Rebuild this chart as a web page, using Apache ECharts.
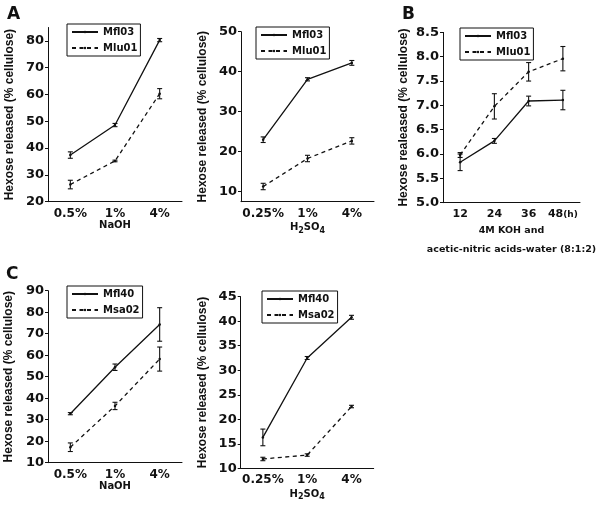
<!DOCTYPE html>
<html><head><meta charset="utf-8">
<script src="https://cdn.jsdelivr.net/npm/echarts@6/dist/echarts.min.js"></script>
<style>html,body{margin:0;padding:0;background:#fff;}#c{width:600px;height:508px;}</style>
</head><body><div id="c"></div>
<script>
// ---- data ----
const naohCats = ['0.5%', '1%', '4%'];
const h2so4Cats = ['0.25%', '1%', '4%'];
const hourCats = ['12', '24', '36', '48'];

// Panel A (left): NaOH
const mfl03Naoh = [37.4, 48.6, 80.3];
const mfl03NaohErr = [1.2, 0.6, 0.6];
const mlu01Naoh = [26.4, 35.2, 60.3];
const mlu01NaohErr = [1.6, 0.3, 1.9];
// Panel A (right): H2SO4
const mfl03H2so4 = [23.0, 38.1, 42.2];
const mfl03H2so4Err = [0.7, 0.4, 0.6];
const mlu01H2so4 = [11.3, 18.3, 22.7];
const mlu01H2so4Err = [0.8, 0.8, 0.8];
// Panel B: KOH / acetic-nitric
const mfl03Koh = [5.83, 6.27, 7.09, 7.11];
const mfl03KohErr = [0.17, 0.05, 0.10, 0.20];
const mlu01Koh = [5.98, 6.98, 7.69, 7.96];
const mlu01KohErr = [0.05, 0.26, 0.19, 0.25];
// Panel C (left): NaOH
const mfl40Naoh = [32.8, 54.4, 74.3];
const mfl40NaohErr = [0.5, 1.5, 7.8];
const msa02Naoh = [17.2, 36.4, 58.2];
const msa02NaohErr = [2.0, 1.7, 5.6];
// Panel C (right): H2SO4
const mfl40H2so4 = [16.3, 32.5, 40.8];
const mfl40H2so4Err = [1.7, 0.3, 0.4];
const msa02H2so4 = [11.9, 12.7, 22.6];
const msa02H2so4Err = [0.35, 0.25, 0.25];

const yTicksA1 = [20, 30, 40, 50, 60, 70, 80];
const yTicksA2 = [10, 20, 30, 40, 50];

// ---- styling helpers ----
const INK = '#111';
const FONT = 'DejaVu Sans';
const yTitle = 'Hexose released (% cellulose)';
const yTitleB = 'Hexose realeased (% cellulose)';

function xAxis(gi, cats, name, labelSize, extra) {
  return Object.assign({
    type: 'category', gridIndex: gi, data: cats, boundaryGap: true,
    axisLine: { lineStyle: { color: INK, width: 1 } },
    axisTick: { alignWithLabel: true, length: 3, lineStyle: { color: INK } },
    axisLabel: { interval: 0, color: INK, fontFamily: FONT, fontWeight: 'bold', fontSize: labelSize, margin: 6 },
    name: name, nameLocation: 'middle', nameGap: 19,
    nameTextStyle: { color: INK, fontFamily: FONT, fontWeight: 'bold', fontSize: 10 }
  }, extra || {});
}
function yAxis(gi, min, max, opts) {
  const a = {
    type: 'value', gridIndex: gi, min: min, max: max,
    splitLine: { show: false },
    axisLine: { show: true, lineStyle: { color: INK, width: 1 } },
    axisTick: { show: true, length: 3, lineStyle: { color: INK } },
    axisLabel: { color: INK, fontFamily: FONT, fontWeight: 'bold', fontSize: 13, margin: 4 },
    name: opts.name, nameLocation: 'middle', nameGap: opts.gap,
    nameTextStyle: { color: INK, fontFamily: 'Liberation Sans', fontWeight: 'bold', fontSize: 12 }
  };
  if (opts.interval) a.interval = opts.interval;
  if (opts.ticks) {
    a.axisLabel.customValues = opts.ticks;
    a.axisTick.customValues = opts.ticks;
  }
  if (opts.fmt) a.axisLabel.formatter = opts.fmt;
  return a;
}
function lineSeries(name, gi, data, dashed) {
  return {
    type: 'line', name: name, xAxisIndex: gi, yAxisIndex: gi, data: data,
    symbol: 'circle', symbolSize: 2.5, showSymbol: true,
    itemStyle: { color: INK },
    lineStyle: { color: INK, width: 1.3, type: dashed ? [4, 3.5] : 'solid' },
    emphasis: { disabled: true }, silent: true, z: 3
  };
}
function errSeries(gi, data, err) {
  return {
    type: 'custom', xAxisIndex: gi, yAxisIndex: gi, silent: true, z: 4,
    data: data.map((v, i) => [i, v - err[i], v + err[i]]),
    renderItem: function (params, api) {
      const x = api.value(0);
      const lo = api.coord([x, api.value(1)]);
      const hi = api.coord([x, api.value(2)]);
      const w = 2.5;
      const st = { stroke: INK, lineWidth: 1.1 };
      return {
        type: 'group', children: [
          { type: 'line', shape: { x1: lo[0], y1: lo[1], x2: hi[0], y2: hi[1] }, style: st },
          { type: 'line', shape: { x1: lo[0] - w, y1: lo[1], x2: lo[0] + w, y2: lo[1] }, style: st },
          { type: 'line', shape: { x1: hi[0] - w, y1: hi[1], x2: hi[0] + w, y2: hi[1] }, style: st }
        ]
      };
    }
  };
}
function legend(names, left, top) {
  return {
    data: names, orient: 'vertical', left: left, top: top,
    itemWidth: 26, itemHeight: 3, itemGap: 6,
    padding: [3, 3, 3, 4], borderColor: INK, borderWidth: 1,
    selectedMode: false,
    textStyle: { color: INK, fontFamily: FONT, fontWeight: 'bold', fontSize: 10, lineHeight: 10 }
  };
}

const h2so4Name = 'H{sub|2}SO{sub|4}';
const h2so4NameStyle = {
  color: INK, fontFamily: FONT, fontWeight: 'bold', fontSize: 10,
  rich: { sub: { fontFamily: FONT, fontWeight: 'bold', fontSize: 8, verticalAlign: 'bottom', padding: [6, 0, 0, 0], color: INK } }
};

const option = {
  backgroundColor: '#fff',
  animation: false,
  title: [
    { text: 'A', left: 2, top: 1, textStyle: { fontFamily: FONT, fontWeight: 'bold', fontSize: 17, color: INK } },
    { text: 'B', left: 397, top: 1, textStyle: { fontFamily: FONT, fontWeight: 'bold', fontSize: 17, color: INK } },
    { text: 'C', left: 1, top: 261, textStyle: { fontFamily: FONT, fontWeight: 'bold', fontSize: 17, color: INK } }
  ],
  grid: [
    { left: 48, top: 27.5, width: 134, height: 174.2 },
    { left: 241, top: 31.7, width: 133, height: 170 },
    { left: 443, top: 32.4, width: 137, height: 170.3 },
    { left: 48, top: 290.7, width: 134, height: 172 },
    { left: 240.7, top: 296.7, width: 133, height: 171.6 }
  ],
  legend: [
    legend(['Mfl03', 'Mlu01'], 67, 24),
    legend(['Mfl03', 'Mlu01'], 256, 27),
    legend(['Mfl03', 'Mlu01'], 460, 28),
    legend(['Mfl40', 'Msa02'], 67, 286),
    legend(['Mfl40', 'Msa02'], 262, 291)
  ],
  xAxis: [
    xAxis(0, naohCats, 'NaOH', 12),
    xAxis(1, h2so4Cats, h2so4Name, 12, { nameTextStyle: h2so4NameStyle }),
    xAxis(2, hourCats, '4M KOH and\nacetic-nitric acids-water (8:1:2)', 11, {
      nameGap: 12,
      nameTextStyle: { color: INK, fontFamily: FONT, fontWeight: 'bold', fontSize: 9.5, lineHeight: 19 },
      axisLabel: {
        interval: 0, color: INK, fontFamily: FONT, fontWeight: 'bold', fontSize: 11, margin: 6,
        formatter: function (v, i) { return i === hourCats.length - 1 ? v + '{h|(h)}' : v; },
        rich: { h: { fontFamily: FONT, fontWeight: 'bold', fontSize: 9, color: INK } }
      }
    }),
    xAxis(3, naohCats, 'NaOH', 12),
    xAxis(4, h2so4Cats, h2so4Name, 12, { nameTextStyle: h2so4NameStyle })
  ],
  yAxis: [
    yAxis(0, 20, 85, { name: yTitle, gap: 32, ticks: yTicksA1 }),
    yAxis(1, 7.5, 50, { name: yTitle, gap: 32, ticks: yTicksA2 }),
    yAxis(2, 5, 8.5, { name: yTitleB, gap: 33, interval: 0.5, fmt: v => v.toFixed(1) }),
    yAxis(3, 10, 90, { name: yTitle, gap: 33, interval: 10 }),
    yAxis(4, 10, 45, { name: yTitle, gap: 32, interval: 5 })
  ],
  series: [
    lineSeries('Mfl03', 0, mfl03Naoh, false), errSeries(0, mfl03Naoh, mfl03NaohErr),
    lineSeries('Mlu01', 0, mlu01Naoh, true), errSeries(0, mlu01Naoh, mlu01NaohErr),
    lineSeries('Mfl03', 1, mfl03H2so4, false), errSeries(1, mfl03H2so4, mfl03H2so4Err),
    lineSeries('Mlu01', 1, mlu01H2so4, true), errSeries(1, mlu01H2so4, mlu01H2so4Err),
    lineSeries('Mfl03', 2, mfl03Koh, false), errSeries(2, mfl03Koh, mfl03KohErr),
    lineSeries('Mlu01', 2, mlu01Koh, true), errSeries(2, mlu01Koh, mlu01KohErr),
    lineSeries('Mfl40', 3, mfl40Naoh, false), errSeries(3, mfl40Naoh, mfl40NaohErr),
    lineSeries('Msa02', 3, msa02Naoh, true), errSeries(3, msa02Naoh, msa02NaohErr),
    lineSeries('Mfl40', 4, mfl40H2so4, false), errSeries(4, mfl40H2so4, mfl40H2so4Err),
    lineSeries('Msa02', 4, msa02H2so4, true), errSeries(4, msa02H2so4, msa02H2so4Err)
  ]
};
const chart = echarts.init(document.getElementById('c'), null, { renderer: 'canvas' });
chart.setOption(option);
</script></body></html>
